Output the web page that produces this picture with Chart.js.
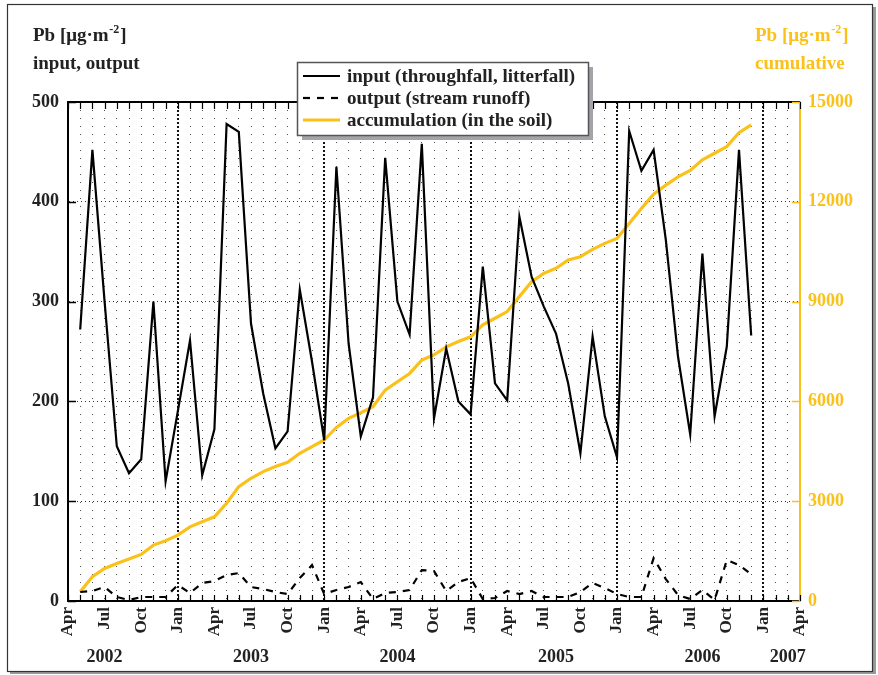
<!DOCTYPE html>
<html>
<head>
<meta charset="utf-8">
<script src="https://cdn.jsdelivr.net/npm/chart.js@4.4.1/dist/chart.umd.min.js"></script>
<style>
  html, body { margin: 0; padding: 0; background: #ffffff; }
  canvas { display: block; }
</style>
</head>
<body>
<canvas id="c" width="878" height="675"></canvas>
<script>
// ---------- DATA ----------
const months = [
  'Apr 2002','May 2002','Jun 2002','Jul 2002','Aug 2002','Sep 2002','Oct 2002','Nov 2002','Dec 2002',
  'Jan 2003','Feb 2003','Mar 2003','Apr 2003','May 2003','Jun 2003','Jul 2003','Aug 2003','Sep 2003','Oct 2003','Nov 2003','Dec 2003',
  'Jan 2004','Feb 2004','Mar 2004','Apr 2004','May 2004','Jun 2004','Jul 2004','Aug 2004','Sep 2004','Oct 2004','Nov 2004','Dec 2004',
  'Jan 2005','Feb 2005','Mar 2005','Apr 2005','May 2005','Jun 2005','Jul 2005','Aug 2005','Sep 2005','Oct 2005','Nov 2005','Dec 2005',
  'Jan 2006','Feb 2006','Mar 2006','Apr 2006','May 2006','Jun 2006','Jul 2006','Aug 2006','Sep 2006','Oct 2006','Nov 2006','Dec 2006',
  'Jan 2007','Feb 2007','Mar 2007','Apr 2007'
];
// measurement months: May 2002 .. Dec 2006
const dataMonths = months.slice(1, 57);

const inputValues = [
  272, 452, 300, 155, 128, 142, 300, 120, 190, 261, 126, 172,
  478, 470, 278, 208, 153, 170, 312, 240, 161, 435, 258, 165,
  204, 444, 300, 267, 458, 183, 253, 200, 187, 335, 218, 201,
  385, 325, 295, 268, 218, 148, 265, 185, 144, 471, 431, 452,
  362, 245, 167, 348, 185, 255, 452, 266
];
const outputValues = [
  9, 10, 14, 4, 1, 4, 4, 4, 16, 8, 18, 20,
  26, 28, 14, 12, 9, 7, 23, 36, 7, 11, 14, 19,
  2, 8, 9, 11, 31, 30, 10, 19, 23, 2, 3, 10,
  7, 10, 4, 4, 4, 9, 18, 13, 7, 4, 4, 43,
  22, 6, 2, 11, 1, 41, 36, 27
];
const accumulationValues = [
  280, 730, 980, 1130, 1260, 1400, 1680, 1810, 1980, 2230, 2380, 2530,
  2940, 3440, 3690, 3890, 4040, 4170, 4440, 4640, 4840, 5220, 5490, 5660,
  5840, 6340, 6590, 6840, 7240, 7400, 7640, 7800, 7940, 8300, 8500, 8700,
  9150, 9600, 9850, 10000, 10250, 10350, 10570, 10750, 10900, 11350, 11800, 12230,
  12500, 12750, 12940, 13260, 13460, 13660, 14080, 14310
];
const monthTickLabels = ['Apr', 'Jul', 'Oct', 'Jan'];
const yearLabels = ['2002', '2003', '2004', '2005', '2006', '2007'];
const seriesLabels = ['input (throughfall, litterfall)', 'output (stream runoff)', 'accumulation (in the soil)'];
const leftTitle = ['Pb [\u03BCg\u00B7m', '-2', ']', 'input, output'];
const rightTitle = ['Pb [\u03BCg\u00B7m', '-2', ']', 'cumulative'];

// ---------- STYLE ----------
const FONT = "'Liberation Serif', 'Times New Roman', serif";
const YELLOW = '#FBC11B';
const TEXT = '#222222';
const yearAnchor = ['Jul 2002', 'Jul 2003', 'Jul 2004', 'Aug 2005', 'Aug 2006', 'Mar 2007'];

const pts = (vals) => vals.map((v, i) => ({ x: dataMonths[i], y: v }));

const decor = {
  id: 'decor',
  beforeDraw(chart) {
    const c = chart.ctx;
    c.save();
    c.fillStyle = '#ffffff';
    c.fillRect(0, 0, chart.width, chart.height);
    c.restore();
  },
  afterDraw(chart) {
    const c = chart.ctx;
    const a = chart.chartArea;
    const xs = chart.scales.x, yl = chart.scales.y, yr = chart.scales.y2;
    c.save();
    // top border
    c.strokeStyle = '#000';
    c.lineWidth = 2;
    c.beginPath(); c.moveTo(a.left - 1, a.top); c.lineTo(a.right, a.top); c.stroke();
    // inward month ticks (top and bottom)
    c.lineWidth = 1.2;
    xs.ticks.forEach((t, i) => {
      const px = Math.round(xs.getPixelForTick(i)) + 0.5;
      c.beginPath();
      c.moveTo(px, a.top); c.lineTo(px, a.top + 7);
      c.moveTo(px, a.bottom); c.lineTo(px, a.bottom - 6);
      c.stroke();
    });
    // inward left ticks
    c.lineWidth = 1.5;
    yl.ticks.forEach(t => {
      const py = Math.round(yl.getPixelForValue(t.value)) + 0.5;
      c.beginPath(); c.moveTo(a.left, py); c.lineTo(a.left + 8, py); c.stroke();
    });
    // inward right ticks
    c.strokeStyle = YELLOW;
    yr.ticks.forEach(t => {
      const py = Math.round(yr.getPixelForValue(t.value)) + 0.5;
      c.beginPath(); c.moveTo(a.right - 8, py); c.lineTo(a.right, py); c.stroke();
    });

    // axis titles
    const drawTitle = (parts, x, color) => {
      c.fillStyle = color;
      c.textAlign = 'left';
      c.textBaseline = 'alphabetic';
      c.font = `bold 19px ${FONT}`;
      c.fillText(parts[0], x, 41);
      let w = c.measureText(parts[0]).width;
      c.font = `bold 12px ${FONT}`;
      c.fillText(parts[1], x + w + 0.5, 33);
      const w2 = c.measureText(parts[1]).width;
      c.font = `bold 19px ${FONT}`;
      c.fillText(parts[2], x + w + w2 + 1.5, 41);
      c.fillText(parts[3], x, 69);
    };
    drawTitle(leftTitle, 33, TEXT);
    drawTitle(rightTitle, 755, YELLOW);

    // legend
    const lx = 297, ly = 62, lw = 291, lh = 73;
    c.fillStyle = '#a3a3aa';
    c.fillRect(lx + 5, ly + 5, lw, lh);
    c.fillStyle = '#ffffff';
    c.fillRect(lx, ly, lw, lh);
    c.strokeStyle = '#555';
    c.lineWidth = 1.5;
    c.strokeRect(lx + 0.5, ly + 0.5, lw, lh);
    chart.data.datasets.forEach((ds, i) => {
      const yy = 76 + i * 22;
      c.save();
      c.strokeStyle = ds.borderColor;
      c.lineWidth = ds.borderWidth;
      c.setLineDash(ds.borderDash || []);
      c.beginPath(); c.moveTo(303, yy); c.lineTo(340, yy); c.stroke();
      c.restore();
      c.fillStyle = TEXT;
      c.font = `bold 19px ${FONT}`;
      c.textAlign = 'left';
      c.textBaseline = 'alphabetic';
      c.fillText(ds.label, 347, yy + 6);
    });

    // outer frame with shadow
    c.fillStyle = '#9a9a9a';
    c.fillRect(873, 7, 3, 667);
    c.fillRect(10, 672, 866, 2);
    c.strokeStyle = '#333';
    c.lineWidth = 1.2;
    c.strokeRect(7.5, 4.5, 865, 667);
    c.restore();
  }
};

new Chart(document.getElementById('c'), {
  type: 'line',
  data: {
    labels: months,
    datasets: [
      { label: seriesLabels[0], data: pts(inputValues), borderColor: '#000000', borderWidth: 2.2,
        pointRadius: 0, tension: 0, yAxisID: 'y', xAxisID: 'x', fill: false },
      { label: seriesLabels[1], data: pts(outputValues), borderColor: '#000000', borderWidth: 2.2,
        borderDash: [7, 7], pointRadius: 0, tension: 0, yAxisID: 'y', xAxisID: 'x', fill: false },
      { label: seriesLabels[2], data: pts(accumulationValues), borderColor: YELLOW, borderWidth: 3.2,
        pointRadius: 0, tension: 0, yAxisID: 'y2', xAxisID: 'x', fill: false }
    ]
  },
  options: {
    responsive: false,
    devicePixelRatio: 1,
    animation: false,
    events: [],
    layout: { padding: { top: 102, left: 0, right: 0, bottom: 0 } },
    plugins: { legend: { display: false }, title: { display: false }, tooltip: { enabled: false } },
    scales: {
      x: {
        type: 'category', labels: months, position: 'bottom', offset: false, weight: 0,
        grid: {
          drawTicks: false,
          color: ctx => (ctx.index === 0 || ctx.index === months.length - 1) ? 'rgba(0,0,0,0)'
                   : (months[ctx.index].startsWith('Jan') ? '#111' : '#555'),
          lineWidth: ctx => months[ctx.index] && months[ctx.index].startsWith('Jan') ? 2 : 1
        },
        border: {
          display: true, color: '#000', width: 2,
          dash: ctx => (ctx.tick ? (months[ctx.index].startsWith('Jan') ? [2, 2] : [1, 7]) : [])
        },
        ticks: {
          autoSkip: false, maxRotation: 90, minRotation: 90, padding: 6,
          color: TEXT, font: { family: FONT, size: 17, weight: 'bold' },
          callback: function (val, idx) {
            const m = months[idx].split(' ')[0];
            return monthTickLabels.includes(m) ? m : '';
          }
        },
        afterFit: s => { s.height = 45; }
      },
      xYear: {
        type: 'category', labels: months, position: 'bottom', offset: false, weight: 1,
        grid: { display: false, drawTicks: false },
        border: { display: false },
        ticks: {
          autoSkip: false, maxRotation: 0, minRotation: 0, padding: 1,
          color: TEXT, font: { family: FONT, size: 18, weight: 'bold' },
          callback: function (val, idx) {
            const k = yearAnchor.indexOf(months[idx]);
            return k >= 0 ? yearLabels[k] : '';
          }
        },
        afterFit: s => { s.height = 29; }
      },
      y: {
        type: 'linear', position: 'left', min: 0, max: 500,
        grid: {
          drawTicks: false,
          color: ctx => (ctx.tick && (ctx.tick.value === 0 || ctx.tick.value === 500)) ? 'rgba(0,0,0,0)' : '#333',
          lineWidth: 1
        },
        border: { display: true, color: '#000', width: 2, dash: ctx => (ctx.tick ? [1, 3] : []) },
        ticks: { stepSize: 100, padding: 9, color: TEXT, font: { family: FONT, size: 18, weight: 'bold' },
                 callback: v => String(v) },
        afterFit: s => { s.width = 68; }
      },
      y2: {
        type: 'linear', position: 'right', min: 0, max: 15000,
        grid: { display: false, drawTicks: false, drawOnChartArea: false },
        border: { display: true, color: YELLOW, width: 2 },
        ticks: { stepSize: 3000, padding: 8, color: YELLOW, font: { family: FONT, size: 18, weight: 'bold' },
                 callback: v => String(v) },
        afterFit: s => { s.width = 78; }
      }
    }
  },
  plugins: [decor]
});
</script>
</body>
</html>
